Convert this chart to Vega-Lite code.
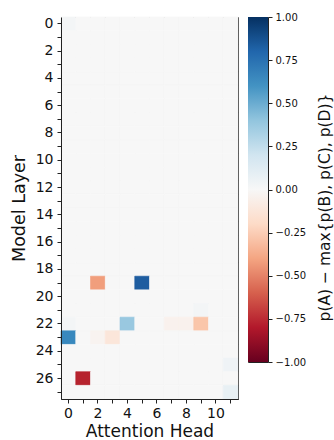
{
  "$schema": "https://vega.github.io/schema/vega-lite/v6.json",
  "padding": {"left": 9, "top": 11, "right": 0, "bottom": 0},
  "spacing": 8,
  "config": {
    "font": "DejaVu Sans",
    "view": {"stroke": "#222", "strokeWidth": 1},
    "axis": {"domainColor": "#222", "tickColor": "#222", "labelColor": "#111", "titleColor": "#111", "titleFontWeight": "normal", "grid": false}
  },
  "datasets": {
    "cells": [
      {"l":0,"h":0,"v":0.02},{"l":0,"h":1,"v":0},{"l":0,"h":2,"v":0},{"l":0,"h":3,"v":0},{"l":0,"h":4,"v":0},{"l":0,"h":5,"v":0},{"l":0,"h":6,"v":0},{"l":0,"h":7,"v":0},{"l":0,"h":8,"v":0},{"l":0,"h":9,"v":0},{"l":0,"h":10,"v":0},{"l":0,"h":11,"v":0},
      {"l":1,"h":0,"v":0},{"l":1,"h":1,"v":0},{"l":1,"h":2,"v":0},{"l":1,"h":3,"v":0},{"l":1,"h":4,"v":0},{"l":1,"h":5,"v":0},{"l":1,"h":6,"v":0},{"l":1,"h":7,"v":0},{"l":1,"h":8,"v":0},{"l":1,"h":9,"v":0},{"l":1,"h":10,"v":0},{"l":1,"h":11,"v":0},
      {"l":2,"h":0,"v":0},{"l":2,"h":1,"v":0},{"l":2,"h":2,"v":0},{"l":2,"h":3,"v":0},{"l":2,"h":4,"v":0},{"l":2,"h":5,"v":0},{"l":2,"h":6,"v":0},{"l":2,"h":7,"v":0},{"l":2,"h":8,"v":0},{"l":2,"h":9,"v":0},{"l":2,"h":10,"v":0},{"l":2,"h":11,"v":0},
      {"l":3,"h":0,"v":0},{"l":3,"h":1,"v":0},{"l":3,"h":2,"v":0},{"l":3,"h":3,"v":0},{"l":3,"h":4,"v":0},{"l":3,"h":5,"v":0},{"l":3,"h":6,"v":0},{"l":3,"h":7,"v":0},{"l":3,"h":8,"v":0},{"l":3,"h":9,"v":0},{"l":3,"h":10,"v":0},{"l":3,"h":11,"v":0},
      {"l":4,"h":0,"v":0},{"l":4,"h":1,"v":0},{"l":4,"h":2,"v":0},{"l":4,"h":3,"v":0},{"l":4,"h":4,"v":0},{"l":4,"h":5,"v":0},{"l":4,"h":6,"v":0},{"l":4,"h":7,"v":0},{"l":4,"h":8,"v":0},{"l":4,"h":9,"v":0},{"l":4,"h":10,"v":0},{"l":4,"h":11,"v":0},
      {"l":5,"h":0,"v":0},{"l":5,"h":1,"v":0},{"l":5,"h":2,"v":0},{"l":5,"h":3,"v":0},{"l":5,"h":4,"v":0},{"l":5,"h":5,"v":0},{"l":5,"h":6,"v":0},{"l":5,"h":7,"v":0},{"l":5,"h":8,"v":0},{"l":5,"h":9,"v":0},{"l":5,"h":10,"v":0},{"l":5,"h":11,"v":0},
      {"l":6,"h":0,"v":0},{"l":6,"h":1,"v":0},{"l":6,"h":2,"v":0},{"l":6,"h":3,"v":0},{"l":6,"h":4,"v":0},{"l":6,"h":5,"v":0},{"l":6,"h":6,"v":0},{"l":6,"h":7,"v":0},{"l":6,"h":8,"v":0},{"l":6,"h":9,"v":0},{"l":6,"h":10,"v":0},{"l":6,"h":11,"v":0},
      {"l":7,"h":0,"v":0},{"l":7,"h":1,"v":0},{"l":7,"h":2,"v":0},{"l":7,"h":3,"v":0},{"l":7,"h":4,"v":0},{"l":7,"h":5,"v":0},{"l":7,"h":6,"v":0},{"l":7,"h":7,"v":0},{"l":7,"h":8,"v":0},{"l":7,"h":9,"v":0},{"l":7,"h":10,"v":0},{"l":7,"h":11,"v":0},
      {"l":8,"h":0,"v":0},{"l":8,"h":1,"v":0},{"l":8,"h":2,"v":0},{"l":8,"h":3,"v":0},{"l":8,"h":4,"v":0},{"l":8,"h":5,"v":0},{"l":8,"h":6,"v":0},{"l":8,"h":7,"v":0},{"l":8,"h":8,"v":0},{"l":8,"h":9,"v":0},{"l":8,"h":10,"v":0},{"l":8,"h":11,"v":0},
      {"l":9,"h":0,"v":0},{"l":9,"h":1,"v":0},{"l":9,"h":2,"v":0},{"l":9,"h":3,"v":0},{"l":9,"h":4,"v":0},{"l":9,"h":5,"v":0},{"l":9,"h":6,"v":0},{"l":9,"h":7,"v":0},{"l":9,"h":8,"v":0},{"l":9,"h":9,"v":0},{"l":9,"h":10,"v":0},{"l":9,"h":11,"v":0},
      {"l":10,"h":0,"v":0},{"l":10,"h":1,"v":0},{"l":10,"h":2,"v":0},{"l":10,"h":3,"v":0},{"l":10,"h":4,"v":0},{"l":10,"h":5,"v":0},{"l":10,"h":6,"v":0},{"l":10,"h":7,"v":0},{"l":10,"h":8,"v":0},{"l":10,"h":9,"v":0},{"l":10,"h":10,"v":0},{"l":10,"h":11,"v":0},
      {"l":11,"h":0,"v":0},{"l":11,"h":1,"v":0},{"l":11,"h":2,"v":0},{"l":11,"h":3,"v":0},{"l":11,"h":4,"v":0},{"l":11,"h":5,"v":0},{"l":11,"h":6,"v":0},{"l":11,"h":7,"v":0},{"l":11,"h":8,"v":0},{"l":11,"h":9,"v":0},{"l":11,"h":10,"v":0},{"l":11,"h":11,"v":0},
      {"l":12,"h":0,"v":0},{"l":12,"h":1,"v":0},{"l":12,"h":2,"v":0},{"l":12,"h":3,"v":0},{"l":12,"h":4,"v":0},{"l":12,"h":5,"v":0},{"l":12,"h":6,"v":0},{"l":12,"h":7,"v":0},{"l":12,"h":8,"v":0},{"l":12,"h":9,"v":0},{"l":12,"h":10,"v":0},{"l":12,"h":11,"v":0},
      {"l":13,"h":0,"v":0},{"l":13,"h":1,"v":0},{"l":13,"h":2,"v":0},{"l":13,"h":3,"v":0},{"l":13,"h":4,"v":0},{"l":13,"h":5,"v":0},{"l":13,"h":6,"v":0},{"l":13,"h":7,"v":0},{"l":13,"h":8,"v":0},{"l":13,"h":9,"v":0},{"l":13,"h":10,"v":0},{"l":13,"h":11,"v":0},
      {"l":14,"h":0,"v":0},{"l":14,"h":1,"v":0},{"l":14,"h":2,"v":0},{"l":14,"h":3,"v":0},{"l":14,"h":4,"v":0},{"l":14,"h":5,"v":0},{"l":14,"h":6,"v":0},{"l":14,"h":7,"v":0},{"l":14,"h":8,"v":0},{"l":14,"h":9,"v":0},{"l":14,"h":10,"v":0},{"l":14,"h":11,"v":0},
      {"l":15,"h":0,"v":0},{"l":15,"h":1,"v":0},{"l":15,"h":2,"v":0},{"l":15,"h":3,"v":0},{"l":15,"h":4,"v":0},{"l":15,"h":5,"v":0},{"l":15,"h":6,"v":0},{"l":15,"h":7,"v":0},{"l":15,"h":8,"v":0},{"l":15,"h":9,"v":0},{"l":15,"h":10,"v":0},{"l":15,"h":11,"v":0},
      {"l":16,"h":0,"v":0},{"l":16,"h":1,"v":0},{"l":16,"h":2,"v":0},{"l":16,"h":3,"v":0},{"l":16,"h":4,"v":0},{"l":16,"h":5,"v":0},{"l":16,"h":6,"v":0},{"l":16,"h":7,"v":0},{"l":16,"h":8,"v":0},{"l":16,"h":9,"v":0},{"l":16,"h":10,"v":0},{"l":16,"h":11,"v":0},
      {"l":17,"h":0,"v":0},{"l":17,"h":1,"v":0},{"l":17,"h":2,"v":0},{"l":17,"h":3,"v":0},{"l":17,"h":4,"v":0},{"l":17,"h":5,"v":0},{"l":17,"h":6,"v":0},{"l":17,"h":7,"v":0},{"l":17,"h":8,"v":0},{"l":17,"h":9,"v":0},{"l":17,"h":10,"v":0},{"l":17,"h":11,"v":0},
      {"l":18,"h":0,"v":0},{"l":18,"h":1,"v":0},{"l":18,"h":2,"v":0},{"l":18,"h":3,"v":0},{"l":18,"h":4,"v":0},{"l":18,"h":5,"v":0},{"l":18,"h":6,"v":0},{"l":18,"h":7,"v":0},{"l":18,"h":8,"v":0},{"l":18,"h":9,"v":0},{"l":18,"h":10,"v":0},{"l":18,"h":11,"v":0},
      {"l":19,"h":0,"v":0},{"l":19,"h":1,"v":0},{"l":19,"h":2,"v":-0.42},{"l":19,"h":3,"v":0},{"l":19,"h":4,"v":0},{"l":19,"h":5,"v":0.83},{"l":19,"h":6,"v":0},{"l":19,"h":7,"v":0},{"l":19,"h":8,"v":0},{"l":19,"h":9,"v":0},{"l":19,"h":10,"v":0},{"l":19,"h":11,"v":0},
      {"l":20,"h":0,"v":0},{"l":20,"h":1,"v":0},{"l":20,"h":2,"v":0},{"l":20,"h":3,"v":0},{"l":20,"h":4,"v":0},{"l":20,"h":5,"v":0},{"l":20,"h":6,"v":0},{"l":20,"h":7,"v":0},{"l":20,"h":8,"v":0},{"l":20,"h":9,"v":0},{"l":20,"h":10,"v":0},{"l":20,"h":11,"v":0},
      {"l":21,"h":0,"v":0},{"l":21,"h":1,"v":0},{"l":21,"h":2,"v":0},{"l":21,"h":3,"v":0},{"l":21,"h":4,"v":0},{"l":21,"h":5,"v":0},{"l":21,"h":6,"v":0},{"l":21,"h":7,"v":0},{"l":21,"h":8,"v":0},{"l":21,"h":9,"v":0.02},{"l":21,"h":10,"v":0},{"l":21,"h":11,"v":0},
      {"l":22,"h":0,"v":0.02},{"l":22,"h":1,"v":0},{"l":22,"h":2,"v":0},{"l":22,"h":3,"v":0},{"l":22,"h":4,"v":0.38},{"l":22,"h":5,"v":0},{"l":22,"h":6,"v":0},{"l":22,"h":7,"v":-0.04},{"l":22,"h":8,"v":-0.04},{"l":22,"h":9,"v":-0.28},{"l":22,"h":10,"v":0},{"l":22,"h":11,"v":0},
      {"l":23,"h":0,"v":0.65},{"l":23,"h":1,"v":0},{"l":23,"h":2,"v":-0.03},{"l":23,"h":3,"v":-0.12},{"l":23,"h":4,"v":0},{"l":23,"h":5,"v":0},{"l":23,"h":6,"v":0},{"l":23,"h":7,"v":0},{"l":23,"h":8,"v":0},{"l":23,"h":9,"v":0},{"l":23,"h":10,"v":0},{"l":23,"h":11,"v":0},
      {"l":24,"h":0,"v":0},{"l":24,"h":1,"v":0},{"l":24,"h":2,"v":0},{"l":24,"h":3,"v":0},{"l":24,"h":4,"v":0},{"l":24,"h":5,"v":0},{"l":24,"h":6,"v":0},{"l":24,"h":7,"v":0},{"l":24,"h":8,"v":0},{"l":24,"h":9,"v":0},{"l":24,"h":10,"v":0},{"l":24,"h":11,"v":0},
      {"l":25,"h":0,"v":0},{"l":25,"h":1,"v":0},{"l":25,"h":2,"v":0},{"l":25,"h":3,"v":0},{"l":25,"h":4,"v":0},{"l":25,"h":5,"v":0},{"l":25,"h":6,"v":0},{"l":25,"h":7,"v":0},{"l":25,"h":8,"v":0},{"l":25,"h":9,"v":0},{"l":25,"h":10,"v":0},{"l":25,"h":11,"v":0.04},
      {"l":26,"h":0,"v":0},{"l":26,"h":1,"v":-0.78},{"l":26,"h":2,"v":0},{"l":26,"h":3,"v":0},{"l":26,"h":4,"v":0},{"l":26,"h":5,"v":0},{"l":26,"h":6,"v":0},{"l":26,"h":7,"v":0},{"l":26,"h":8,"v":0},{"l":26,"h":9,"v":0},{"l":26,"h":10,"v":0},{"l":26,"h":11,"v":0},
      {"l":27,"h":0,"v":0},{"l":27,"h":1,"v":0},{"l":27,"h":2,"v":0},{"l":27,"h":3,"v":0},{"l":27,"h":4,"v":0},{"l":27,"h":5,"v":0},{"l":27,"h":6,"v":0},{"l":27,"h":7,"v":0},{"l":27,"h":8,"v":0},{"l":27,"h":9,"v":0},{"l":27,"h":10,"v":0},{"l":27,"h":11,"v":0.08}
    ],
    "bar": [{"lo": -1, "hi": 1}]
  },
  "hconcat": [
    {
      "width": 177,
      "height": 382,
      "data": {"name": "cells"},
      "mark": {"type": "rect", "strokeWidth": 0.6},
      "encoding": {
        "x": {"field": "h", "type": "ordinal", "sort": "ascending",
              "scale": {"paddingInner": 0, "paddingOuter": 0},
              "axis": {"title": "Attention Head", "labelAngle": 0, "labelFontSize": 14, "titleFontSize": 17, "tickSize": 4, "labelPadding": 3, "titlePadding": 3,
                       "labelExpr": "datum.value % 2 == 0 ? datum.label : ''"}},
        "y": {"field": "l", "type": "ordinal", "sort": "ascending",
              "scale": {"paddingInner": 0, "paddingOuter": 0},
              "axis": {"title": "Model Layer", "labelFontSize": 14, "titleFontSize": 17.5, "tickSize": 4, "labelPadding": 4, "titlePadding": 7,
                       "labelExpr": "datum.value % 2 == 0 ? datum.label : ''"}},
        "color": {"field": "v", "type": "quantitative", "legend": null,
                  "scale": {"domain": [-1, -0.8, -0.6, -0.4, -0.2, 0, 0.2, 0.4, 0.6, 0.8, 1],
                            "range": ["#67001f", "#b2182b", "#d6604d", "#f4a582", "#fddbc7", "#f7f7f7", "#d1e5f0", "#92c5de", "#4393c3", "#2166ac", "#053061"]}},
        "stroke": {"field": "v", "type": "quantitative", "legend": null,
                  "scale": {"domain": [-1, -0.8, -0.6, -0.4, -0.2, 0, 0.2, 0.4, 0.6, 0.8, 1],
                            "range": ["#67001f", "#b2182b", "#d6604d", "#f4a582", "#fddbc7", "#f7f7f7", "#d1e5f0", "#92c5de", "#4393c3", "#2166ac", "#053061"]}}
      }
    },
    {
      "width": 20,
      "height": 345,
      "data": {"name": "bar"},
      "mark": {"type": "rect", "color": {
        "gradient": "linear", "x1": 0, "y1": 0, "x2": 0, "y2": 1,
        "stops": [
          {"offset": 0, "color": "#053061"},
          {"offset": 0.1, "color": "#2166ac"},
          {"offset": 0.2, "color": "#4393c3"},
          {"offset": 0.3, "color": "#92c5de"},
          {"offset": 0.4, "color": "#d1e5f0"},
          {"offset": 0.5, "color": "#f7f7f7"},
          {"offset": 0.6, "color": "#fddbc7"},
          {"offset": 0.7, "color": "#f4a582"},
          {"offset": 0.8, "color": "#d6604d"},
          {"offset": 0.9, "color": "#b2182b"},
          {"offset": 1, "color": "#67001f"}
        ]}},
      "encoding": {
        "y": {"field": "lo", "type": "quantitative",
              "scale": {"domain": [-1, 1], "nice": false, "zero": false},
              "axis": {"orient": "right", "values": [-1, -0.75, -0.5, -0.25, 0, 0.25, 0.5, 0.75, 1], "format": ".2f",
                       "labelFontSize": 10, "tickSize": 4, "labelPadding": 3, "domain": false,
                       "title": "p(A) − max{p(B), p(C), p(D)}", "titleFontSize": 15.5, "titleAngle": 270, "titleBaseline": "top", "titlePadding": 12, "titleY": 190}},
        "y2": {"field": "hi"}
      }
    }
  ]
}
